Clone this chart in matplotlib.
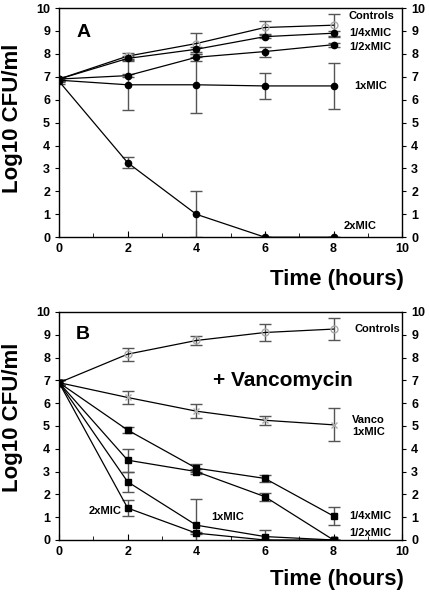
import numpy as np
import matplotlib.pyplot as plt

plt.rcParams['font.family'] = ['Liberation Sans', 'DejaVu Sans']
plt.rcParams['font.weight'] = 'bold'

hours = [0, 2, 4, 6, 8]

# Panel A
a_controls = [6.9, 7.9, 8.45, 9.15, 9.25]
a_controls_err = [0.1, 0.12, 0.45, 0.3, 0.5]
a_quarter = [6.9, 7.8, 8.2, 8.75, 8.9]
a_quarter_err = [0.1, 0.1, 0.1, 0.08, 0.1]
a_half = [6.9, 7.05, 7.85, 8.1, 8.4]
a_half_err = [0.1, 0.08, 0.15, 0.22, 0.08]
a_one = [6.85, 6.65, 6.65, 6.6, 6.6]
a_one_err = [0.1, 1.08, 1.22, 0.57, 1.02]
a_two = [6.8, 3.25, 1.0, 0.0, 0.0]
a_two_err = [0.1, 0.25, 1.0, 0.0, 0.0]

# Panel B
b_controls = [6.9, 8.15, 8.75, 9.1, 9.25]
b_controls_err = [0.1, 0.28, 0.2, 0.36, 0.5]
b_vanco = [6.9, 6.25, 5.65, 5.25, 5.05]
b_vanco_err = [0.1, 0.27, 0.3, 0.2, 0.72]
b_quarter = [6.9, 4.82, 3.15, 2.7, 1.05]
b_quarter_err = [0.1, 0.13, 0.17, 0.15, 0.4]
b_half = [6.9, 3.5, 3.0, 1.9, 0.0]
b_half_err = [0.1, 0.5, 0.1, 0.17, 0.0]
b_one = [6.9, 2.55, 0.65, 0.15, 0.0]
b_one_err = [0.1, 0.45, 1.15, 0.3, 0.0]
b_two = [6.9, 1.4, 0.3, 0.0, 0.0]
b_two_err = [0.1, 0.35, 0.05, 0.0, 0.0]

fig = plt.figure(figsize=(4.31, 5.93), dpi=100)
axA = fig.add_axes([0.137, 0.600, 0.796, 0.3865])
axB = fig.add_axes([0.137, 0.0894, 0.796, 0.3845])

ebar = dict(ecolor='#555555', elinewidth=1.0, capsize=4, capthick=1.0)


def series(ax, y, err, marker, mfc, mec, ms):
    ax.errorbar(hours, y, yerr=err, color='black', lw=0.9, marker=marker,
                ms=ms, mfc=mfc, mec=mec, **ebar)


def style(ax):
    ax.set_xlim(0, 10)
    ax.set_ylim(0, 10)
    ax.set_xticks([0, 2, 4, 6, 8, 10])
    ax.set_xticks([1, 3, 5, 7, 9], minor=True)
    ax.set_yticks(range(11))
    ax.tick_params(axis='x', direction='in', length=4, labelsize=9, pad=4)
    ax.tick_params(axis='x', which='minor', direction='in', length=3)
    ax.tick_params(axis='y', direction='out', length=3, labelsize=9,
                   right=True, labelright=True)
    for s in ax.spines.values():
        s.set_linewidth(1.0)
    for lab in ax.get_xticklabels() + ax.get_yticklabels():
        lab.set_fontweight('bold')


series(axA, a_controls, a_controls_err, 'o', 'none', '#aaaaaa', 5)
series(axA, a_quarter, a_quarter_err, 'o', 'black', 'black', 4.5)
series(axA, a_half, a_half_err, 'o', 'black', 'black', 4.5)
series(axA, a_one, a_one_err, 'o', 'black', 'black', 4.5)
series(axA, a_two, a_two_err, 'o', 'black', 'black', 4.5)
style(axA)

lab = dict(fontsize=8, fontweight='bold', va='center', ha='left')
axA.text(0.5, 8.95, 'A', fontsize=14, fontweight='bold', va='center')
axA.text(8.45, 9.65, 'Controls', **lab)
axA.text(8.45, 8.9, '1/4xMIC', **lab)
axA.text(8.45, 8.3, '1/2xMIC', **lab)
axA.text(8.6, 6.6, '1xMIC', **lab)
axA.text(8.3, 0.5, '2xMIC', **lab)

series(axB, b_controls, b_controls_err, 'o', 'none', '#aaaaaa', 5)
series(axB, b_vanco, b_vanco_err, 'x', 'none', '#aaaaaa', 4.5)
series(axB, b_quarter, b_quarter_err, 's', 'black', 'black', 4.5)
series(axB, b_half, b_half_err, 's', 'black', 'black', 4.5)
series(axB, b_one, b_one_err, 's', 'black', 'black', 4.5)
series(axB, b_two, b_two_err, 's', 'black', 'black', 4.5)
style(axB)

axB.text(0.5, 9.0, 'B', fontsize=14, fontweight='bold', va='center')
axB.text(8.6, 9.25, 'Controls', **lab)
axB.text(4.5, 7.0, '+ Vancomycin', fontsize=15, fontweight='bold', va='center')
axB.text(8.55, 5.0, 'Vanco\n1xMIC', fontsize=8, fontweight='bold', va='center',
         ha='left', linespacing=1.3)
axB.text(8.45, 1.05, '1/4xMIC', **lab)
axB.text(8.45, 0.3, '1/2xMIC', **lab)
axB.text(4.45, 1.0, '1xMIC', **lab)
axB.text(0.85, 1.25, '2xMIC', **lab)

fig.text(0.782, 0.528, 'Time (hours)', fontsize=16, fontweight='bold',
         ha='center', va='center')
fig.text(0.782, 0.022, 'Time (hours)', fontsize=16, fontweight='bold',
         ha='center', va='center')
fig.text(0.028, 0.80, 'Log10 CFU/ml', fontsize=16, fontweight='bold',
         rotation=90, ha='center', va='center')
fig.text(0.028, 0.297, 'Log10 CFU/ml', fontsize=16, fontweight='bold',
         rotation=90, ha='center', va='center')

fig.savefig('out.png', dpi=100)
